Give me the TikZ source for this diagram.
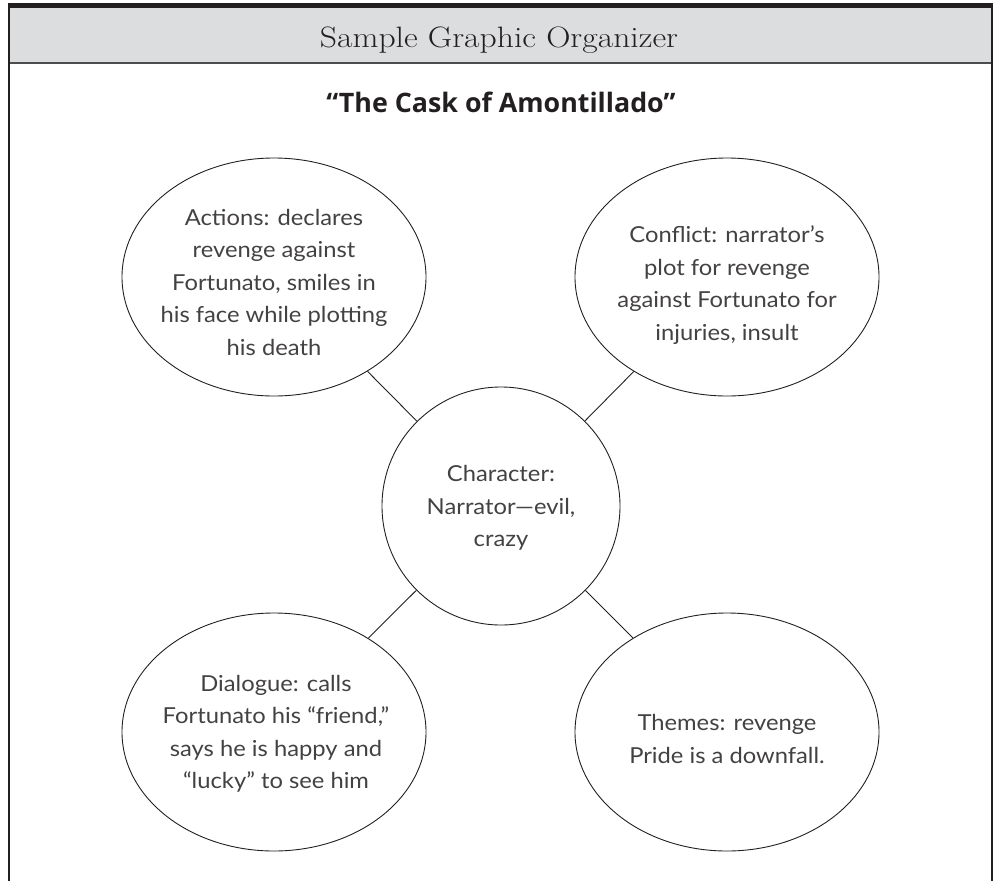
\documentclass[tikz,border=0pt]{standalone}
\usepackage{fontspec}
\usetikzlibrary{shapes.geometric}
\newfontfamily\handfont{Lato}[FakeStretch=1.08]
\newfontfamily\boldsans{Open Sans}
\definecolor{ink}{HTML}{231F20}
\definecolor{band}{HTML}{DCDDDF}
\definecolor{rule}{HTML}{4D4D4F}

\begin{document}
\begin{tikzpicture}[x=1pt,y=-1pt,
  bubble/.style={draw=ink, line width=0.9pt, ellipse, minimum width=304pt, minimum height=238pt, inner sep=0pt},
  hub/.style={draw=ink, line width=0.9pt, circle, minimum size=238pt, inner sep=0pt},
  link/.style={draw=ink, line width=0.9pt},
  note/.style={align=center, inner sep=0pt, text=ink!85, font=\handfont\fontsize{22}{32.5}\selectfont}
]
\useasboundingbox (0,0) rectangle (995,881);

% page frame with grey heading band
\fill[band] (9,8) rectangle (992,63);
\fill[ink] (8,3) rectangle (993,8);
\draw[rule, line width=1.6pt] (9,63) -- (992,63);
\draw[ink, line width=1.6pt] (9,3) -- (9,881) (992,3) -- (992,881);

\node[anchor=base, inner sep=0pt, text=ink] (heading) at (499,47)
  {\fontsize{29.5}{30}\selectfont\scalebox{1.14}[1]{Sample Graphic Organizer}};
\node[anchor=base, inner sep=0pt, text=ink] (story) at (501,112)
  {\boldsans\bfseries\fontsize{26.8}{27}\selectfont “The Cask of Amontillado”};

% web of bubbles
\node[hub] (hub) at (501,506) {};
\node[bubble] (actions) at (274,277) {};
\node[bubble] (conflict) at (727,277) {};
\node[bubble] (dialogue) at (274,732) {};
\node[bubble] (themes) at (727,732) {};

\draw[link] (hub) -- (actions);
\draw[link] (hub) -- (conflict);
\draw[link] (hub) -- (dialogue);
\draw[link] (hub) -- (themes);

\node[note] (hubtext) at (501,508) {Character:\\Narrator—evil,\\crazy};
\node[note] (actionstext) at (274,282) {Actions: declares\\revenge against\\Fortunato, smiles in\\his face while plotting\\his death};
\node[note] (conflicttext) at (727,285) {Conflict: narrator’s\\plot for revenge\\against Fortunato for\\injuries, insult};
\node[note] (dialoguetext) at (276,734) {Dialogue: calls\\Fortunato his “friend,”\\says he is happy and\\“lucky” to see him};
\node[note] (themestext) at (727,739) {Themes: revenge\\Pride is a downfall.};
\end{tikzpicture}
\end{document}
